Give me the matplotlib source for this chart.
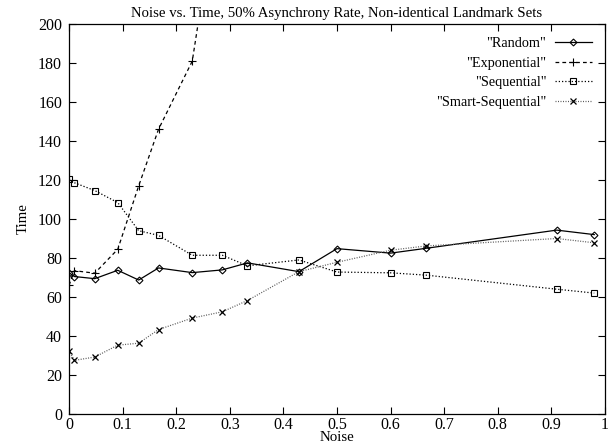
import matplotlib
matplotlib.use("Agg")
from matplotlib import pyplot as plt
from matplotlib.ticker import FormatStrFormatter, MultipleLocator

noise = [0, 0.01, 0.048, 0.091, 0.13, 0.167, 0.23, 0.286, 0.333, 0.429, 0.5, 0.6, 0.667, 0.91, 0.98]

random_t = [72.5, 70.5, 69.4, 73.7, 68.7, 74.9, 72.5, 73.9, 77.5, 73, 84.8, 82.5, 85, 94.3, 92]
sequential_t = [120.5, 118.6, 114.6, 108.4, 94, 91.6, 81.4, 81.4, 76, 79, 72.8, 72.4, 71.2, 64, 62]
smart_t = [32.5, 27.5, 29.2, 35.3, 36.3, 43.3, 49.2, 52.4, 58.2, 73, 77.8, 84, 86.2, 90, 87.8]

exp_noise = [0, 0.01, 0.048, 0.091, 0.13, 0.167, 0.23, 0.286]
exp_t = [66, 73.5, 72.2, 84.5, 117, 146, 181, 280]

plt.rcParams['font.family'] = ['Liberation Serif', 'DejaVu Serif']
plt.rcParams['font.size'] = 10

fig = plt.figure(figsize=(6.08, 4.45), dpi=100)
ax = fig.add_axes([0.1135, 0.0697, 0.8815, 0.8763])

ax.plot(noise, random_t, color='black', lw=0.9, ls='-', marker='D', ms=3.5,
        mfc='none', mew=0.8, label='"Random"')
ax.plot(exp_noise, exp_t, color='black', lw=0.9, ls=(0, (3, 2.5)), marker='+', ms=6,
        mew=0.8, label='"Exponential"')
ax.plot(noise, sequential_t, color='black', lw=0.9, ls=(0, (1, 1.6)), marker='s', ms=5,
        mfc='none', mew=0.8, label='"Sequential"')
ax.plot(noise, smart_t, color='0.35', lw=0.9, ls=(0, (0.8, 1.2)), marker='x', ms=5,
        mew=0.9, mec='black', label='"Smart-Sequential"')

ax.set_xlim(0, 1)
ax.set_ylim(0, 200)
ax.xaxis.set_major_locator(MultipleLocator(0.1))
ax.yaxis.set_major_locator(MultipleLocator(20))
ax.xaxis.set_major_formatter(FormatStrFormatter('%g'))
ax.tick_params(direction='in', length=5, width=0.8, top=True, right=True,
               labelsize=11.5)
ax.tick_params(axis='y', pad=5)
ax.tick_params(axis='x', pad=2)
for s in ax.spines.values():
    s.set_linewidth(0.9)

ax.set_title('Noise vs. Time, 50% Asynchrony Rate, Non-identical Landmark Sets',
             fontsize=10.6, pad=5)
ax.set_xlabel('Noise', fontsize=10.7, labelpad=-1)
ax.set_ylabel('Time', fontsize=10.7, labelpad=6)

leg = ax.legend(loc='upper right', frameon=False, markerfirst=False, handlelength=2.6,
                fontsize=10.3, labelspacing=0.47, borderaxespad=0.5, handletextpad=0.6,
                alignment='right')
for t in leg.get_texts():
    t.set_ha('right')

fig.savefig('out.png', dpi=100)
